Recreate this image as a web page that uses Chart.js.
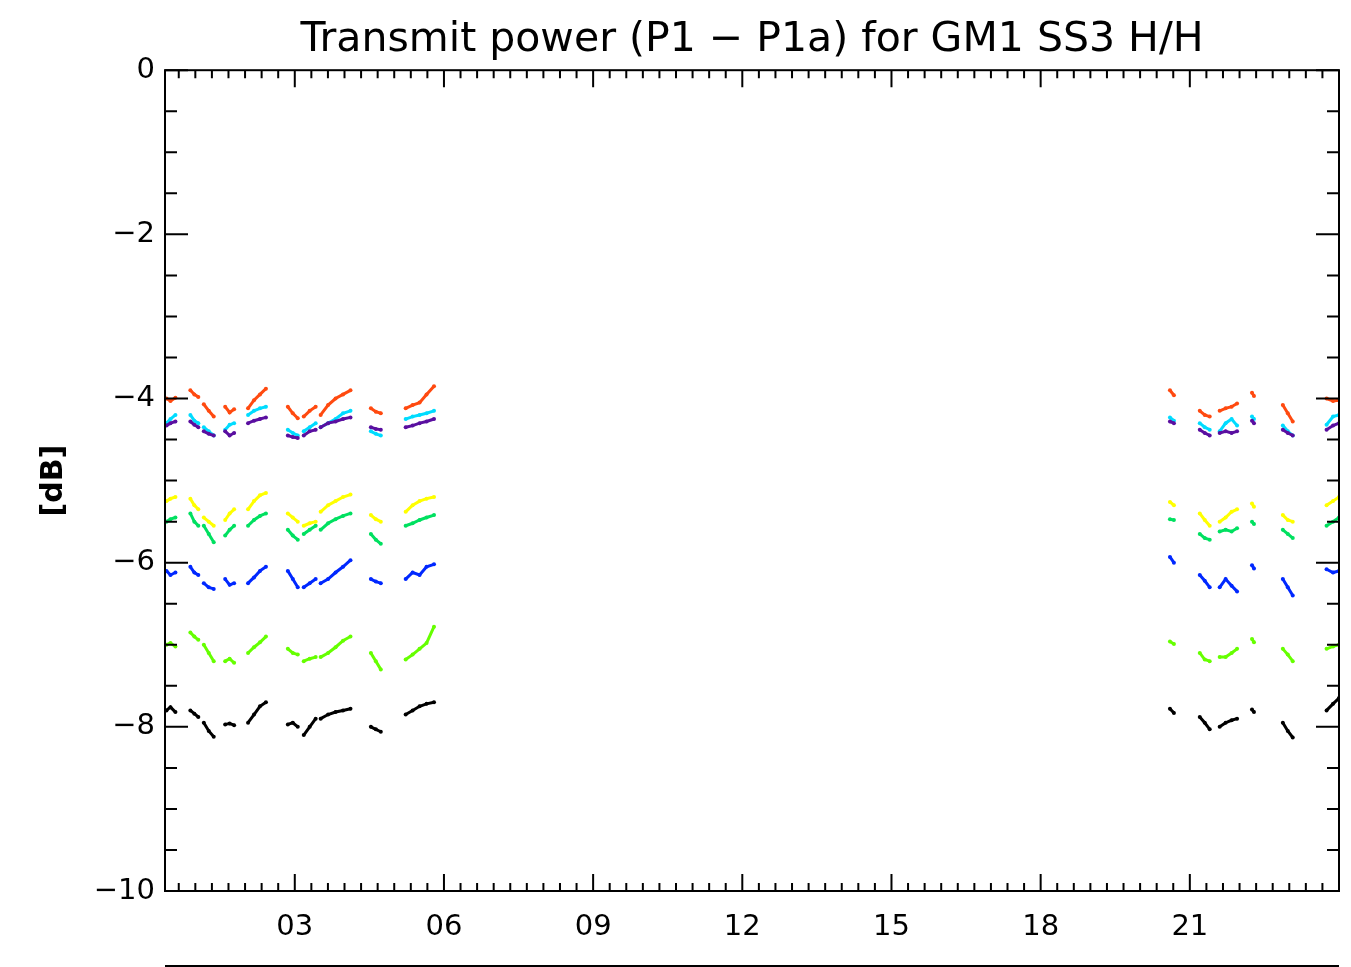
<!DOCTYPE html>
<html>
<head>
<meta charset="utf-8">
<script src="https://cdn.jsdelivr.net/npm/chart.js@4/dist/chart.umd.min.js"></script>
<style>
  body { margin: 0; background: #fff; }
  #wrap { width: 1351px; height: 967px; }
</style>
</head>
<body>
<div id="wrap"><canvas id="grafico"></canvas></div>
<script>
// hours of day (UT); entries at the gaps carry null values
const hours = [
  0.42, 0.5, 0.6, 0.75,
  0.9, 0.98, 1.06, 1.12,
  1.17, 1.27, 1.37, 1.5,
  1.6, 1.69, 1.78, 1.9,
  2.06, 2.18, 2.3, 2.42, 2.6,
  2.86, 2.96, 3.06, 3.12,
  3.18, 3.3, 3.42, 3.47,
  3.52, 3.67, 3.82, 3.97, 4.12, 4.3,
  4.53, 4.63, 4.73, 5.0,
  5.23, 5.37, 5.51, 5.65, 5.8, 13,
  20.6, 20.68, 20.9,
  21.2, 21.3, 21.4, 21.5,
  21.6, 21.72, 21.84, 21.95, 22.1,
  22.25, 22.29, 22.5,
  22.87, 22.97, 23.07, 23.4,
  23.75, 23.88, 24.0
]

const serieVermelha = [
  -4.0, -4.03, -3.99, null,
  -3.9, -3.95, -3.98, null,
  -4.07, -4.15, -4.22, null,
  -4.1, -4.17, -4.13, null,
  -4.12, -4.02, -3.95, -3.88, null,
  -4.1, -4.18, -4.24, null,
  -4.22, -4.15, -4.1, null,
  -4.2, -4.08, -4.0, -3.95, -3.9, null,
  -4.12, -4.16, -4.18, null,
  -4.12, -4.08, -4.05, -3.95, -3.85, null,
  -3.9, -3.96, null,
  -4.15, -4.2, -4.22, null,
  -4.15, -4.12, -4.1, -4.06, null,
  -3.93, -3.97, null,
  -4.08, -4.18, -4.28, null,
  -4.0, -4.03, -4.02
]

const serieCiano = [
  -4.3, -4.25, -4.2, null,
  -4.2, -4.27, -4.3, null,
  -4.35, -4.4, -4.45, null,
  -4.38, -4.32, -4.3, null,
  -4.2, -4.15, -4.12, -4.1, null,
  -4.38, -4.42, -4.45, null,
  -4.4, -4.35, -4.3, null,
  -4.35, -4.3, -4.25, -4.18, -4.15, null,
  -4.4, -4.43, -4.45, null,
  -4.25, -4.22, -4.2, -4.18, -4.15, null,
  -4.23, -4.27, null,
  -4.3, -4.35, -4.38, null,
  -4.4, -4.3, -4.25, -4.33, null,
  -4.22, -4.25, null,
  -4.33, -4.4, -4.45, null,
  -4.32, -4.22, -4.2
]

const serieRoxa = [
  -4.33, -4.3, -4.28, null,
  -4.28, -4.32, -4.35, null,
  -4.4, -4.43, -4.45, null,
  -4.4, -4.45, -4.42, null,
  -4.3, -4.27, -4.25, -4.23, null,
  -4.45, -4.47, -4.48, null,
  -4.45, -4.4, -4.38, null,
  -4.35, -4.3, -4.28, -4.25, -4.23, null,
  -4.35, -4.37, -4.38, null,
  -4.35, -4.33, -4.3, -4.28, -4.25, null,
  -4.28, -4.3, null,
  -4.38, -4.42, -4.45, null,
  -4.42, -4.4, -4.42, -4.4, null,
  -4.27, -4.3, null,
  -4.38, -4.42, -4.45, null,
  -4.38, -4.33, -4.3
]

const serieAmarela = [
  -5.25, -5.22, -5.2, null,
  -5.22, -5.3, -5.35, null,
  -5.45, -5.5, -5.55, null,
  -5.48, -5.4, -5.35, null,
  -5.35, -5.25, -5.18, -5.15, null,
  -5.4, -5.45, -5.5, null,
  -5.55, -5.52, -5.5, null,
  -5.38, -5.3, -5.25, -5.2, -5.17, null,
  -5.42, -5.47, -5.5, null,
  -5.38, -5.3, -5.25, -5.22, -5.2, null,
  -5.26, -5.3, null,
  -5.4, -5.48, -5.55, null,
  -5.5, -5.45, -5.38, -5.35, null,
  -5.28, -5.32, null,
  -5.42, -5.48, -5.5, null,
  -5.3, -5.25, -5.2
]

const serieVerde = [
  -5.5, -5.47, -5.45, null,
  -5.4, -5.5, -5.55, null,
  -5.55, -5.65, -5.75, null,
  -5.67, -5.6, -5.55, null,
  -5.55, -5.48, -5.43, -5.4, null,
  -5.6, -5.67, -5.72, null,
  -5.65, -5.6, -5.55, null,
  -5.6, -5.52, -5.47, -5.43, -5.4, null,
  -5.65, -5.72, -5.77, null,
  -5.55, -5.52, -5.48, -5.45, -5.42, null,
  -5.47, -5.48, null,
  -5.65, -5.7, -5.72, null,
  -5.62, -5.6, -5.62, -5.58, null,
  -5.5, -5.53, null,
  -5.6, -5.65, -5.7, null,
  -5.55, -5.5, -5.45
]

const serieAzul = [
  -6.1, -6.15, -6.12, null,
  -6.05, -6.12, -6.15, null,
  -6.25, -6.3, -6.32, null,
  -6.2, -6.27, -6.25, null,
  -6.25, -6.18, -6.1, -6.05, null,
  -6.1, -6.2, -6.3, null,
  -6.3, -6.25, -6.2, null,
  -6.25, -6.2, -6.12, -6.05, -5.97, null,
  -6.2, -6.23, -6.25, null,
  -6.2, -6.12, -6.15, -6.05, -6.02, null,
  -5.93, -6.0, null,
  -6.15, -6.22, -6.3, null,
  -6.3, -6.2, -6.28, -6.35, null,
  -6.03, -6.07, null,
  -6.2, -6.3, -6.4, null,
  -6.08, -6.12, -6.1
]

const serieLima = [
  -7.0, -6.98, -7.02, null,
  -6.85, -6.9, -6.94, null,
  -7.0, -7.1, -7.2, null,
  -7.2, -7.17, -7.22, null,
  -7.1, -7.03, -6.97, -6.9, null,
  -7.05, -7.1, -7.12, null,
  -7.2, -7.17, -7.15, null,
  -7.15, -7.1, -7.03, -6.95, -6.9, null,
  -7.1, -7.2, -7.3, null,
  -7.18, -7.12, -7.05, -6.98, -6.78, null,
  -6.96, -6.99, null,
  -7.1, -7.18, -7.2, null,
  -7.15, -7.15, -7.1, -7.05, null,
  -6.93, -6.97, null,
  -7.05, -7.12, -7.2, null,
  -7.05, -7.02, -7.0
]

const seriePreta = [
  -7.8, -7.76, -7.82, null,
  -7.8, -7.84, -7.88, null,
  -7.95, -8.05, -8.12, null,
  -7.97, -7.96, -7.98, null,
  -7.95, -7.85, -7.75, -7.7, null,
  -7.97, -7.95, -8.0, null,
  -8.1, -8.0, -7.9, null,
  -7.9, -7.85, -7.82, -7.8, -7.78, null,
  -8.0, -8.03, -8.06, null,
  -7.85, -7.8, -7.75, -7.72, -7.7, null,
  -7.78, -7.83, null,
  -7.88, -7.95, -8.03, null,
  -8.0, -7.95, -7.92, -7.9, null,
  -7.79, -7.82, null,
  -7.95, -8.05, -8.13, null,
  -7.8, -7.72, -7.65
]

const xTickHours = [3, 6, 9, 12, 15, 18, 21]
const xMin = 0.39
const xMax = 24

const series = [
  [serieAmarela, '#ffff00'],
  [serieVerde, '#00e060'],
  [serieLima, '#66ff00'],
  [serieRoxa, '#5a0fa0'],
  [serieCiano, '#00dcff'],
  [serieAzul, '#0028ff'],
  [serieVermelha, '#ff4a10'],
  [seriePreta, '#000000']
]

const datasets = series.map(([valores, cor]) => ({
  data: hours.map((h, i) => ({ x: h, y: valores[i] })),
  borderColor: cor,
  backgroundColor: cor,
  borderWidth: 3,
  pointRadius: 2,
  pointBorderWidth: 0,
  spanGaps: false,
  tension: 0
}))

// moldura estilo IDL com ticks para dentro
const moldura = {
  id: 'moldura',
  afterDatasetsDraw(chart) {
    const { ctx, chartArea: a, scales: { x, y } } = chart
    ctx.save()
    ctx.strokeStyle = '#000'
    ctx.lineWidth = 2
    ctx.strokeRect(a.left, a.top, a.right - a.left, a.bottom - a.top)
    ctx.beginPath()
    for (let k = Math.ceil(xMin * 3); k <= Math.floor(xMax * 3); k++) {
      const px = x.getPixelForValue(k / 3)
      const len = k % 9 === 0 ? 17 : 8
      ctx.moveTo(px, a.bottom); ctx.lineTo(px, a.bottom - len)
      ctx.moveTo(px, a.top); ctx.lineTo(px, a.top + len)
    }
    for (let k = -20; k <= 0; k++) {
      const py = y.getPixelForValue(k / 2)
      const len = k % 4 === 0 ? 23 : 12
      ctx.moveTo(a.left, py); ctx.lineTo(a.left + len, py)
      ctx.moveTo(a.right, py); ctx.lineTo(a.right - len, py)
    }
    // linha solta embaixo
    ctx.moveTo(a.left, a.bottom + 75); ctx.lineTo(a.right, a.bottom + 75)
    ctx.stroke()
    ctx.restore()
  }
}

new Chart(document.getElementById('grafico'), {
  type: 'line',
  data: { datasets: datasets },
  options: {
    responsive: true,
    maintainAspectRatio: false,
    animation: false,
    layout: { padding: { left: 0, right: 12, top: 0, bottom: 0 } },
    plugins: {
      legend: { display: false },
      tooltip: { enabled: false },
      title: {
        display: true,
        fullSize: false,
        text: 'Transmit power (P1 \u2212 P1a) for GM1 SS3 H/H',
        color: '#000',
        font: { family: 'DejaVu Sans', size: 41, weight: 'normal' },
        padding: { top: 16, bottom: 5 }
      }
    },
    scales: {
      x: {
        type: 'linear',
        min: xMin,
        max: xMax,
        grid: { display: false, drawTicks: false },
        border: { display: false },
        afterBuildTicks: scale => { scale.ticks = xTickHours.map(v => ({ value: v })) },
        afterFit: scale => { scale.height = 76 },
        ticks: {
          color: '#000',
          padding: 19,
          maxRotation: 0,
          font: { family: 'DejaVu Sans', size: 29 },
          callback: v => String(v).padStart(2, '0')
        }
      },
      y: {
        min: -10,
        max: 0,
        grid: { display: false, drawTicks: false },
        border: { display: false },
        afterFit: scale => { scale.width = 165 },
        ticks: {
          stepSize: 2,
          color: '#000',
          padding: 10,
          font: { family: 'DejaVu Sans', size: 29 },
          callback: v => v === 0 ? '0' : '\u2212' + Math.abs(v)
        },
        title: {
          display: true,
          text: '[dB]',
          color: '#000',
          font: { family: 'DejaVu Sans', size: 30, weight: 'bold' },
          padding: { top: 36, bottom: 0 }
        }
      }
    }
  },
  plugins: [moldura]
})
</script>
</body>
</html>
